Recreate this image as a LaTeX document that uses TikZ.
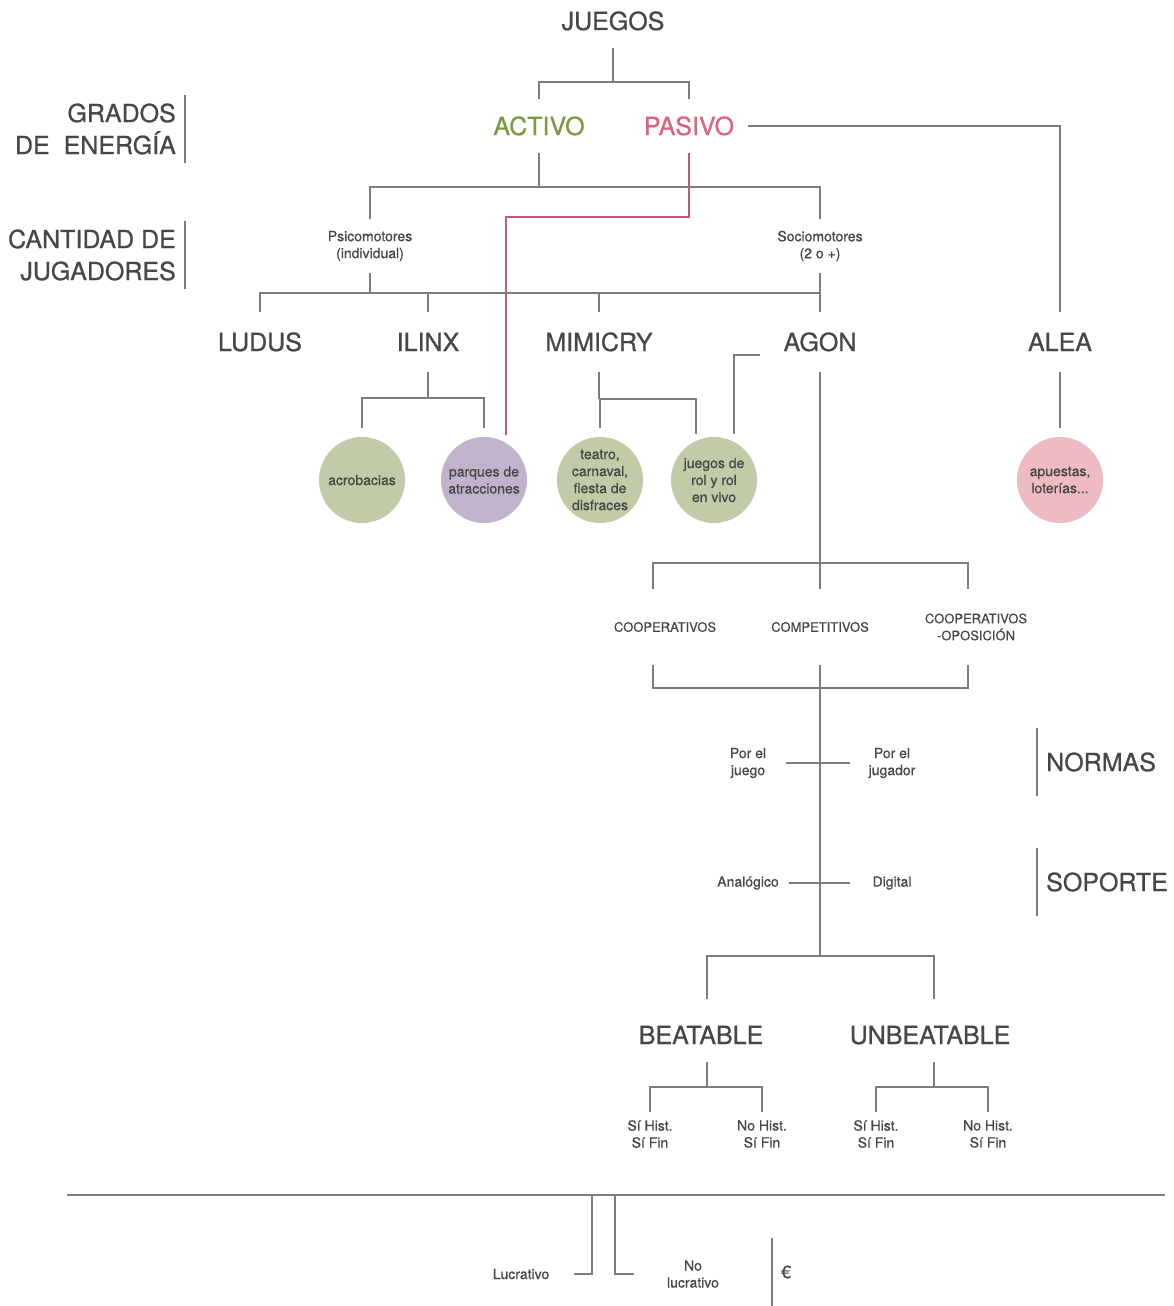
\documentclass[tikz,border=0pt]{standalone}
\usepackage{fontspec}
\setmainfont{TeX Gyre Heros}[FakeBold=0.7]
\definecolor{TextClr}{HTML}{474747}
\definecolor{LineClr}{HTML}{7D7D7D}
\definecolor{ActivoClr}{HTML}{7B9A40}
\definecolor{PasivoClr}{HTML}{DA647D}
\definecolor{PinkLineClr}{HTML}{B95F7C}
\definecolor{GreenFill}{HTML}{C1CBA8}
\definecolor{PurpleFill}{HTML}{C2B3CD}
\definecolor{PinkFill}{HTML}{EDBBC1}

\tikzset{
  conn/.style={draw=LineClr,line width=2pt},
  pinkconn/.style={draw=PinkLineClr,line width=2pt},
  big/.style={text=TextClr,font=\fontsize{25}{30}\selectfont,inner sep=0pt,
    text height=18pt,text depth=0pt,outer ysep=18pt,outer xsep=14pt},
  kind/.style={big,outer ysep=21pt},
  small/.style={text=TextClr,font=\fontsize{14}{17}\selectfont,inner sep=0pt,align=center},
  tier/.style={small,font=\fontsize{13}{17}\selectfont},
  side/.style={text=TextClr,font=\fontsize{25}{32}\selectfont,inner ysep=0pt,inner xsep=9pt,
    minimum height=68pt},
  bubble/.style={circle,minimum size=86pt,inner sep=0pt,outer sep=9pt,align=center,
    text=TextClr,font=\fontsize{14}{17}\selectfont},
}

\begin{document}
\begin{tikzpicture}[x=1pt,y=-1pt]
\useasboundingbox (0,0) rectangle (1173,1306);

% side labels
\node[side,anchor=east,align=right] (grados) at (185,129) {GRADOS\\DE\ \ ENERGÍA};
\node[side,anchor=east,align=right] (cantidad) at (185,255) {CANTIDAD DE\\JUGADORES};
\node[side,anchor=west] (normas) at (1037,762) {NORMAS};
\node[side,anchor=west] (soporte) at (1037,882) {SOPORTE};
\node[side,anchor=west,font=\fontsize{18}{20}\selectfont] (euro) at (772,1272) {€};
\foreach \n in {grados,cantidad} \draw[conn,line width=1.5pt] (\n.north east) -- (\n.south east);
\foreach \n in {normas,soporte,euro} \draw[conn,line width=1.5pt] (\n.north west) -- (\n.south west);

% tree top
\node[big] (juegos) at (613,21) {JUEGOS};
\node[big,text=ActivoClr] (activo) at (539,126) {ACTIVO};
\node[big,text=PasivoClr] (pasivo) at (689,126) {PASIVO};
\node[small,outer ysep=12pt] (psico) at (370,246) {Psicomotores\\(individual)};
\node[small,outer ysep=12pt] (socio) at (820,246) {Sociomotores\\(2 o +)};

\node[kind] (ludus) at (260,342) {LUDUS};
\node[kind] (ilinx) at (428,342) {ILINX};
\node[kind] (mimicry) at (599,342) {MIMICRY};
\node[kind] (agon) at (820,342) {AGON};
\node[kind] (alea) at (1060,342) {ALEA};

\node[bubble,fill=GreenFill] (acro) at (362,480) {acrobacias};
\node[bubble,fill=PurpleFill] (parques) at (484,480) {parques de\\atracciones};
\node[bubble,fill=GreenFill] (teatro) at (600,480) {teatro,\\carnaval,\\fiesta de\\disfraces};
\node[bubble,fill=GreenFill] (rol) at (714,480) {juegos de\\rol y rol\\en vivo};
\node[bubble,fill=PinkFill] (apuestas) at (1060,480) {apuestas,\\loterías...};

\coordinate (jfork) at (613,82);
\coordinate (afork) at (539,187);
\coordinate (pfork) at (370,293);
\coordinate (hook) at (760,355);

\draw[conn] (juegos.south) -- (jfork);
\draw[conn] (activo.north) |- (jfork) -| (pasivo.north);
\draw[conn] (pasivo.east) -| (alea.north);
\draw[conn] (activo.south) -- (afork);
\draw[conn] (psico.north) |- (afork) -| (socio.north);
\draw[conn] (psico.south) -- (pfork);
\draw[conn] (ludus.north) |- (agon.north |- pfork);
\draw[conn] (socio.south) -- (agon.north);
\draw[conn] (ilinx.north) -- (ilinx.north |- pfork);
\draw[conn] (mimicry.north) -- (mimicry.north |- pfork);
\draw[pinkconn] (pasivo.south) -- ++(0,64) -| ([shift={(22pt,-7pt)}]parques.north);

\draw[conn] (ilinx.south) -- ++(0,26) coordinate (ifork);
\draw[conn] (acro.north) |- (ifork) -| (parques.north);
\draw[conn] (mimicry.south) -- ++(0,27) coordinate (mfork);
\draw[conn] (teatro.north) |- (mfork) -| ([shift={(-18pt,-6pt)}]rol.north);
\draw[conn] (hook) -| ([shift={(20pt,-6pt)}]rol.north);
\draw[conn] (alea.south) -- (apuestas.north);

% agon
\node[tier,text height=9.5pt,text depth=0pt,outer ysep=33pt] (coop) at (665,627) {COOPERATIVOS};
\node[tier,text height=9.5pt,text depth=0pt,outer ysep=33pt] (compet) at (820,627) {COMPETITIVOS};
\node[tier,outer ysep=25pt] (coopop) at (976,627) {COOPERATIVOS\\-OPOSICIÓN};

\coordinate (tfork) at (820,563);
\coordinate (bfork) at (820,688);
\coordinate (dfork) at (820,956);

\draw[conn] (agon.south) -- (compet.north);
\draw[conn] ([xshift=-12pt]coop.north) |- (tfork) -| ([xshift=-8pt]coopop.north |- coop.north);
\draw[conn] ([xshift=-12pt]coop.south) |- (bfork) -| ([xshift=-8pt]coopop.south |- coop.south);
\draw[conn] (compet.south) -- (bfork) -- (dfork);

\node[small] (porjuego) at (748,763) {Por el\\juego};
\node[small] (porjugador) at (892,763) {Por el\\jugador};
\node[small] (analog) at (748,883) {Analógico};
\node[small] (digital) at (892,883) {Digital};
\draw[conn,shorten <=20pt,shorten >=19pt] (porjuego) -- (porjugador);
\draw[conn,shorten <=10pt,shorten >=22pt] (analog) -- (digital);

\node[big] (beat) at (701,1035) {BEATABLE};
\node[big] (unbeat) at (930,1035) {UNBEATABLE};
\draw[conn] ([shift={(6pt,9pt)}]beat.north) |- (dfork) -| ([shift={(4pt,9pt)}]unbeat.north);

\node[small,outer ysep=8pt] (sh1) at (650,1134) {Sí Hist.\\Sí Fin};
\node[small,outer ysep=8pt] (nh1) at (762,1134) {No Hist.\\Sí Fin};
\node[small,outer ysep=8pt] (sh2) at (876,1134) {Sí Hist.\\Sí Fin};
\node[small,outer ysep=8pt] (nh2) at (988,1134) {No Hist.\\Sí Fin};
\draw[conn] ([xshift=6pt]beat.south) -- ++(0,25) coordinate (bt);
\draw[conn] (sh1.north) |- (bt) -| (nh1.north);
\draw[conn] ([xshift=4pt]unbeat.south) -- ++(0,25) coordinate (ut);
\draw[conn] (sh2.north) |- (ut) -| (nh2.north);

% lucro
\coordinate (rule l) at (67,1195);
\coordinate (rule r) at (1165,1195);
\coordinate (lucro top) at (592,1195);
\coordinate (nolucro top) at (615,1195);
\draw[conn] (rule l) -- (rule r);
\node[small,outer xsep=25pt] (lucro) at (521,1274) {Lucrativo};
\node[small,outer xsep=33pt] (nolucro) at (693,1274) {No\\lucrativo};
\draw[conn] (lucro top) |- (lucro.east);
\draw[conn] (nolucro top) |- (nolucro.west);
\end{tikzpicture}
\end{document}
